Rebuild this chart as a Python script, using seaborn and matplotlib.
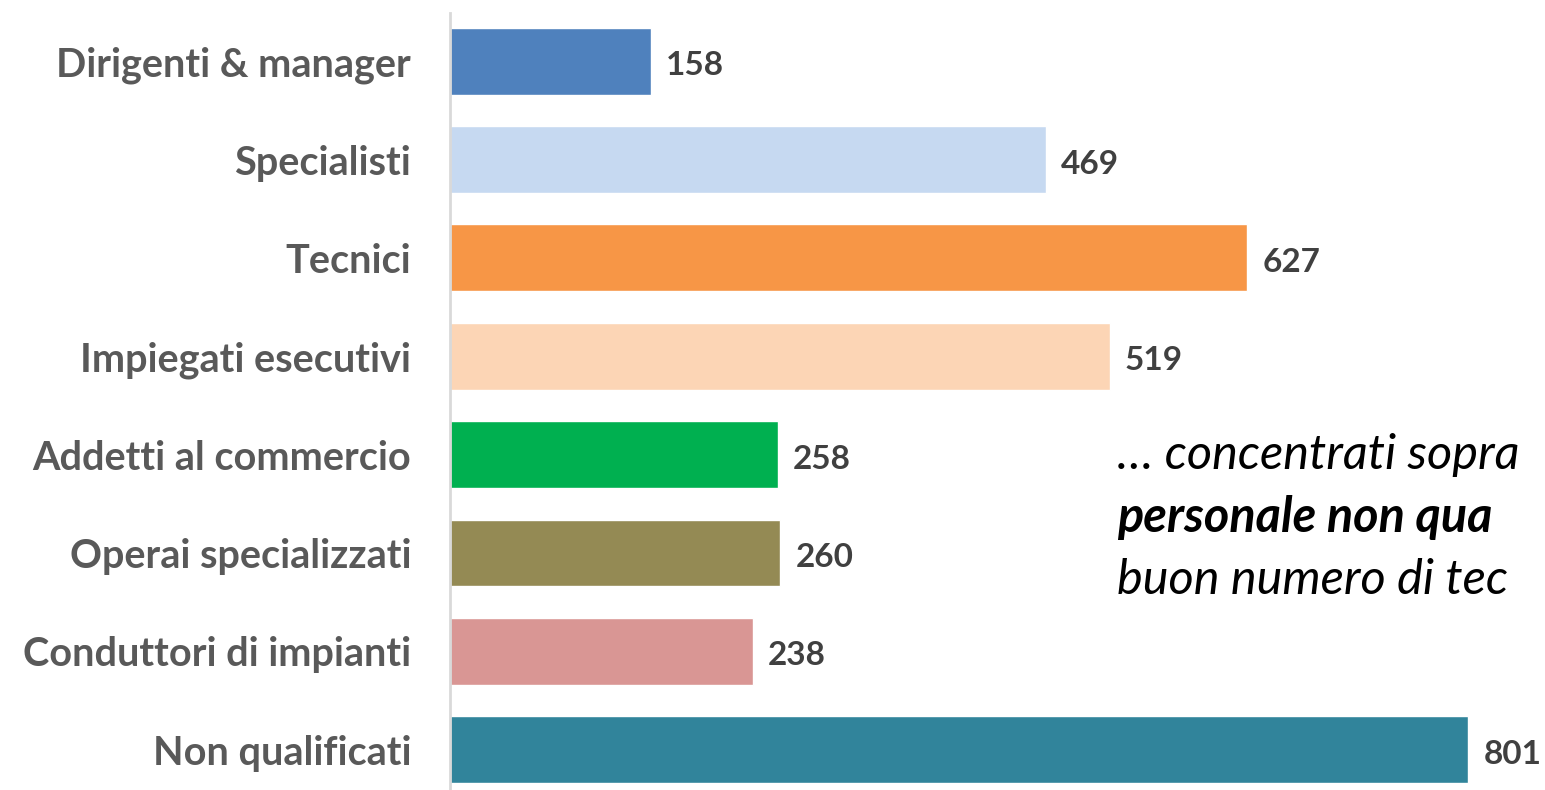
import matplotlib
matplotlib.use("Agg")
import matplotlib.pyplot as plt
import seaborn as sns
import pandas as pd

categories = ["Dirigenti & manager", "Specialisti", "Tecnici", "Impiegati esecutivi",
              "Addetti al commercio", "Operai specializzati", "Conduttori di impianti",
              "Non qualificati"]
values = [158, 469, 627, 519, 258, 260, 238, 801]
colors = ["#4F81BD", "#C6D9F1", "#F79646", "#FCD5B5", "#00B050", "#948A54", "#D99694", "#31849B"]
note_lines = ["… concentrati sopra", "personale non qua", "buon numero di tec"]

sns.set_theme(style="white")
plt.rcParams['font.family'] = ['Lato', 'DejaVu Sans']

df = pd.DataFrame({"cat": categories, "val": values})

fig = plt.figure(figsize=(15.45, 7.9), dpi=100)
ax = fig.add_axes([450/1545, 0, 1 - 450/1545, 777/790])
sns.barplot(data=df, y="cat", x="val", hue="cat", palette=colors, dodge=False,
            width=0.68, legend=False, ax=ax, saturation=1)
ax.set_xlim(0, 861.5)
ax.set_ylim(7.41, -0.49)
ax.set_xlabel("")
ax.set_ylabel("")
ax.set_xticks([])
for s in ["top", "right", "bottom"]:
    ax.spines[s].set_visible(False)
ax.spines["left"].set_color("#D9D9D9")
ax.spines["left"].set_linewidth(2)
ax.tick_params(axis="y", length=0, pad=28)
for lbl in ax.get_yticklabels():
    lbl.set_fontsize(28.5)
    lbl.set_fontweight("bold")
    lbl.set_color("#595959")

for i, v in enumerate(values):
    ax.text(v + 12, i + 0.02, str(v), va="center_baseline", ha="left", fontsize=24,
            fontweight="bold", color="#404040")

ys = [455, 518, 580]
weights = ["normal", "bold", "normal"]
for t, y, w in zip(note_lines, ys, weights):
    fig.text(1117/1545, 1 - y/790, t, fontsize=35, style="italic",
             fontweight=w, color="black", va="center", ha="left")

fig.savefig("out.png", dpi=100)
